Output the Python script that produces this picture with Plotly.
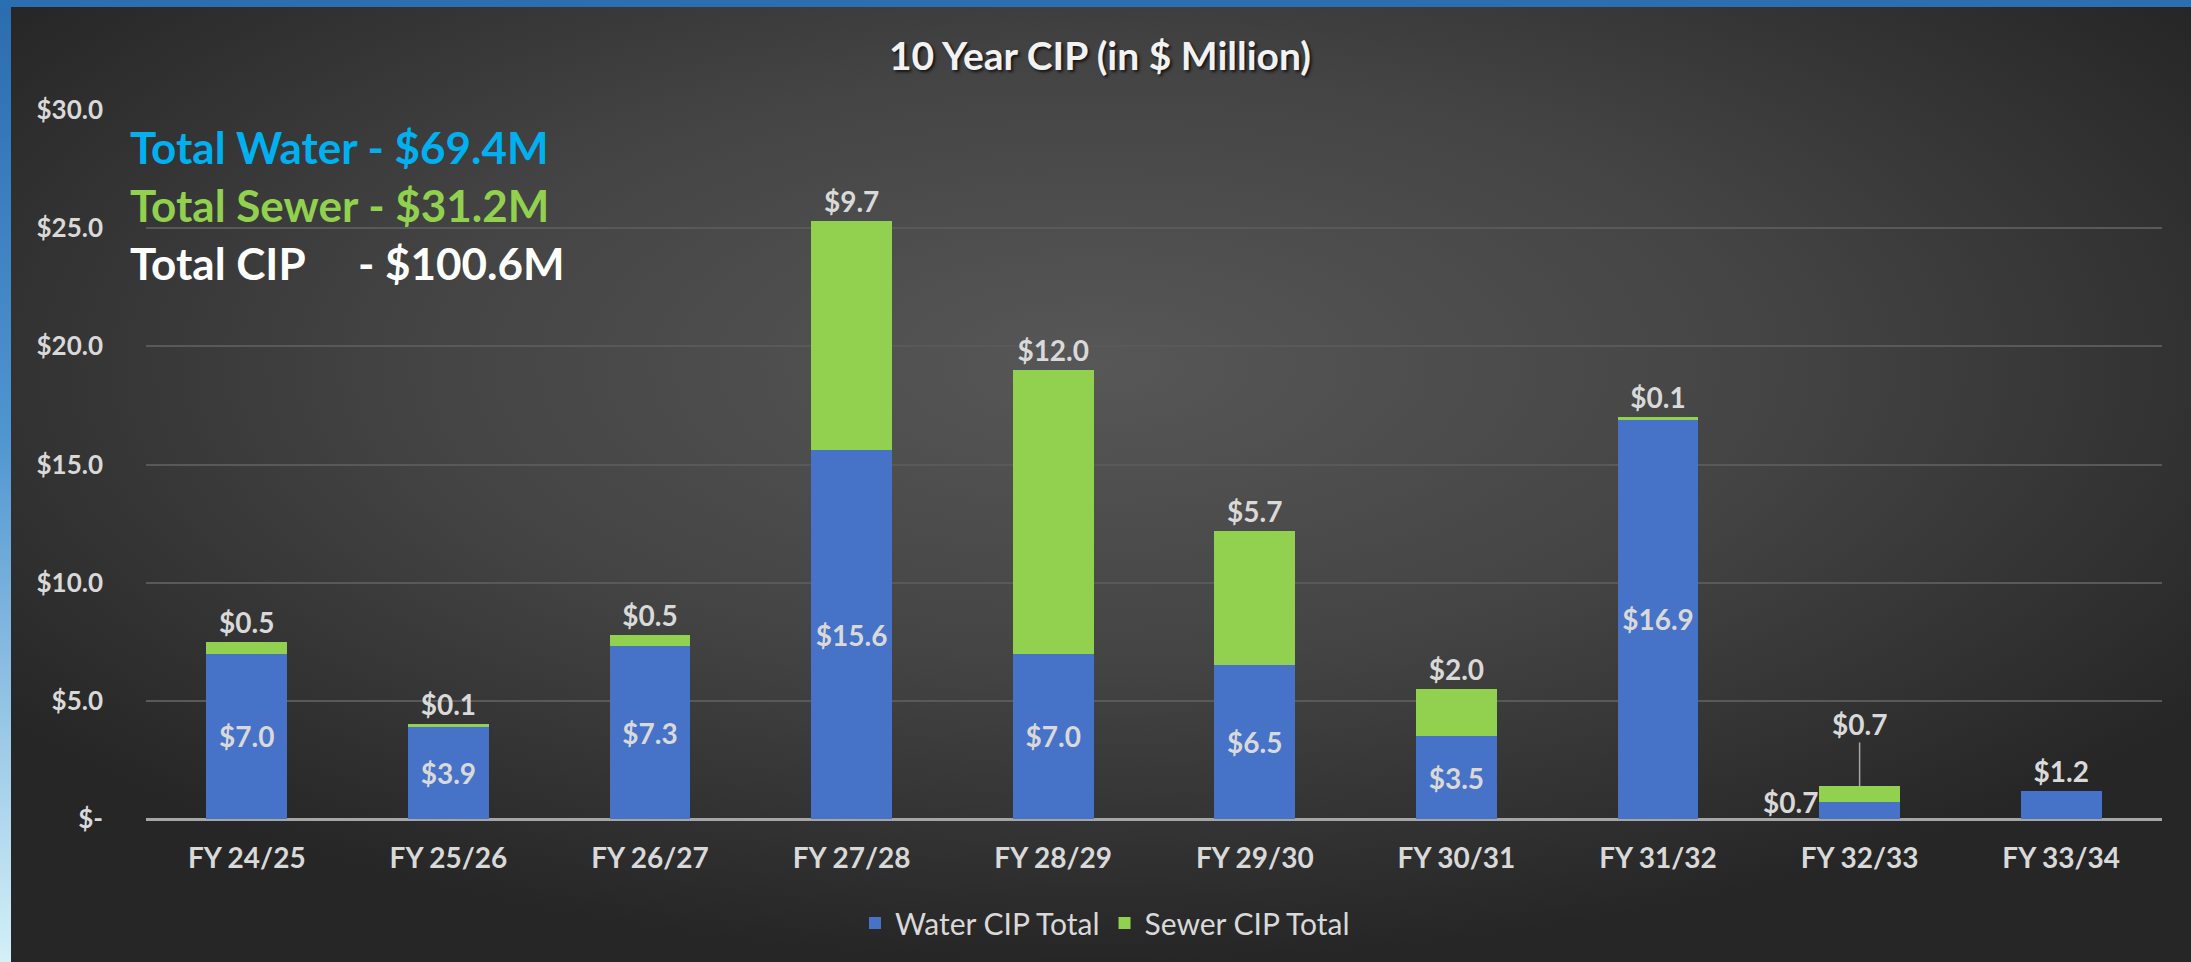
import base64
import plotly.graph_objects as go

categories = ["FY 24/25", "FY 25/26", "FY 26/27", "FY 27/28", "FY 28/29",
              "FY 29/30", "FY 30/31", "FY 31/32", "FY 32/33", "FY 33/34"]
water = [7.0, 3.9, 7.3, 15.6, 7.0, 6.5, 3.5, 16.9, 0.7, 1.2]
sewer = [0.5, 0.1, 0.5, 9.7, 12.0, 5.7, 2.0, 0.1, 0.7, None]
tick_vals = [0, 5, 10, 15, 20, 25, 30]
tick_text = ["$-", "$5.0", "$10.0", "$15.0", "$20.0", "$25.0", "$30.0"]
totals = [("Total Water - $69.4M", "#00B0F0"),
          ("Total Sewer - $31.2M", "#92D050"),
          ("Total CIP\u00a0\u00a0\u00a0\u00a0 - $100.6M", "#FFFFFF")]

W, H = 2191, 962
ML, MR, MT, MB = 146, 29, 110, 143
PW, PH = W - ML - MR, H - MT - MB

FONT = "Lato, 'Open Sans', sans-serif"
LBL = "#D9D9D9"

svg = f'''<svg xmlns="http://www.w3.org/2000/svg" width="{W}" height="{H}" viewBox="0 0 {W} {H}" preserveAspectRatio="none">
<defs>
<linearGradient id="side" x1="0" y1="0" x2="0" y2="1">
<stop offset="0" stop-color="#2a6cb0"/><stop offset="0.45" stop-color="#4f95d0"/><stop offset="1" stop-color="#d4f0f8"/>
</linearGradient>
<radialGradient id="bg" cx="0.5" cy="0.38" r="0.62">
<stop offset="0" stop-color="#575757"/><stop offset="0.5" stop-color="#444444"/><stop offset="1" stop-color="#262626"/>
</radialGradient>
</defs>
<rect x="0" y="0" width="{W}" height="{H}" fill="url(#bg)"/>
<rect x="0" y="0" width="11" height="{H}" fill="url(#side)"/>
<rect x="0" y="0" width="{W}" height="7" fill="#2a6fb0"/>
</svg>'''
src = "data:image/svg+xml;base64," + base64.b64encode(svg.encode()).decode()

water_text = [f"${v:.1f}" for v in water]
water_pos = ["inside"] * len(water)
water_pos[8] = "none"
water_pos[9] = "outside"
sewer_text = [f"${v:.1f}" if v is not None else "" for v in sewer]
sewer_pos = ["outside"] * len(sewer)
sewer_pos[8] = "none"

fig = go.Figure()
fig.add_trace(go.Bar(
    name="Water CIP Total", x=categories, y=water,
    marker=dict(color="#4672C8", line=dict(width=0)),
    text=water_text, textposition=water_pos, insidetextanchor="middle",
    textfont=dict(family=FONT, size=28, color=LBL, weight="bold"),
    constraintext="none", cliponaxis=False,
))
fig.add_trace(go.Bar(
    name="Sewer CIP Total", x=categories, y=sewer,
    marker=dict(color="#92D050", line=dict(width=0)),
    text=sewer_text, textposition=sewer_pos,
    textfont=dict(family=FONT, size=28, color=LBL, weight="bold"),
    constraintext="none", cliponaxis=False,
))

annotations = []
for i, (t, c) in enumerate(totals):
    annotations.append(dict(
        xref="paper", yref="paper", x=(128 - ML) / PW, y=(MT + PH - (147 + 58 * i)) / PH,
        xanchor="left", yanchor="middle", text=t, showarrow=False,
        font=dict(family=FONT, size=44, color=c, weight="bold"),
    ))

# FY 32/33 special labels
annotations.append(dict(
    x=categories[8], y=water[8], xref="x", yref="y", text=water_text[8],
    showarrow=False, xanchor="right", yanchor="middle", xshift=-40,
    font=dict(family=FONT, size=28, color=LBL, weight="bold"),
))
annotations.append(dict(
    x=categories[8], y=water[8] + sewer[8], xref="x", yref="y", text=sewer_text[8],
    showarrow=True, arrowhead=0, arrowwidth=1.5, arrowcolor="#A6A6A6",
    ax=0, ay=-62, standoff=0,
    font=dict(family=FONT, size=28, color=LBL, weight="bold"),
))

fig.update_layout(
    width=W, height=H,
    margin=dict(l=ML, r=MR, t=MT, b=MB, pad=0, autoexpand=False),
    paper_bgcolor="#2a2a2a", plot_bgcolor="rgba(0,0,0,0)",
    barmode="stack", bargap=0.6,
    title=dict(text="10 Year CIP (in $ Million)", x=1100 / W, xref="container", xanchor="center",
               y=1 - 56 / H, yref="container", yanchor="middle",
               font=dict(family=FONT, size=39, color="#F2F2F2", weight="bold",
                         shadow="2px 2px 3px rgba(0,0,0,0.7)")),
    xaxis=dict(showgrid=False, showline=False, zeroline=False, ticks="",
               tickfont=dict(family=FONT, size=28, color=LBL, weight="bold"),
               ticklabelstandoff=20, automargin=False),
    yaxis=dict(range=[0, 30], tickvals=tick_vals, ticktext=tick_text,
               showgrid=True, gridcolor="#595959", gridwidth=2,
               zeroline=True, zerolinecolor="#A6A6A6", zerolinewidth=3,
               showline=False, ticks="", ticklabelstandoff=42, automargin=False,
               tickfont=dict(family=FONT, size=26, color=LBL, weight="bold")),
    legend=dict(orientation="h", x=(1105 - ML) / PW, xanchor="center", xref="paper",
                y=(MT + PH - 923) / PH, yanchor="middle", traceorder="normal",
                font=dict(family=FONT, size=30, color=LBL), bgcolor="rgba(0,0,0,0)",
                itemwidth=30),
    annotations=annotations,
    images=[dict(source=src, xref="paper", yref="paper", x=-ML / PW, y=1 + MT / PH,
                 sizex=W / PW, sizey=H / PH, xanchor="left", yanchor="top",
                 sizing="stretch", layer="below")],
    showlegend=True,
)

fig.write_html("out.html", config={"displayModeBar": False},
               post_script="document.body.style.margin='0px';document.body.style.overflow='hidden';")
